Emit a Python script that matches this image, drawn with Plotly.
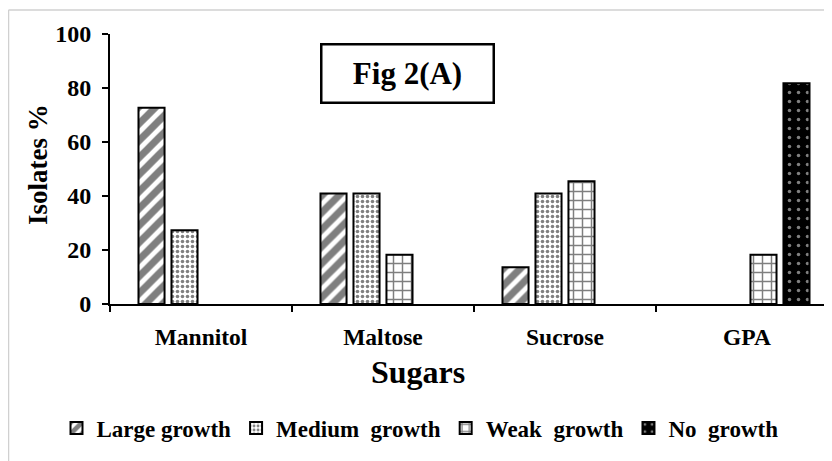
import plotly.graph_objects as go

categories = ["Mannitol", "Maltose", "Sucrose", "GPA"]
series_names = ["Large growth", "Medium\u00a0 growth", "Weak\u00a0 growth", "No\u00a0 growth"]
large_growth = [72.7, 40.9, 13.6, 0]
medium_growth = [27.3, 40.9, 40.9, 0]
weak_growth = [0, 18.2, 45.5, 18.2]
no_growth = [0, 0, 0, 81.8]
y_ticks = [0, 20, 40, 60, 80, 100]

FONT = "Liberation Serif"
OFF = 8  # page body margin
W, H = 832 - OFF, 461 - OFF
L, R, T, B = 110 - OFF, 0, 34 - OFF, 157
PW, PH = W - L - R, H - T - B

def px_x(px):
    return (px - OFF - L) / PW

def px_y(py):
    return (H - B - (py - OFF)) / PH

patterns = [
    dict(shape="/", fgcolor="black", bgcolor="white", size=12, solidity=0.6),
    dict(shape=".", fgcolor="black", bgcolor="white", size=5, solidity=0.4),
    dict(shape="+", fgcolor="black", bgcolor="white", size=9, solidity=0.3),
    dict(shape=".", fgcolor="white", bgcolor="black", size=9, solidity=0.12),
]
colors = ["white", "white", "white", "black"]
values = [large_growth, medium_growth, weak_growth, no_growth]

fig = go.Figure()
for name, vals, pat, col in zip(series_names, values, patterns, colors):
    fig.add_trace(go.Bar(
        x=categories, y=[v if v else None for v in vals], name=name,
        marker=dict(color=col, line=dict(color="black", width=2), pattern=pat),
    ))

fig.update_layout(
    width=W, height=H,
    margin=dict(l=L, r=R, t=T, b=B, pad=0),
    paper_bgcolor="white", plot_bgcolor="white",
    barmode="group", bargap=0.275, bargroupgap=0.21,
    font=dict(family=FONT, color="black", size=23, weight="bold"),
    showlegend=True,
    legend=dict(orientation="h", x=px_x(420), xanchor="center", y=px_y(428), yanchor="middle",
                font=dict(family=FONT, size=23, weight="bold"), itemwidth=30,
                bgcolor="rgba(0,0,0,0)"),
    xaxis=dict(range=[-0.5, -0.5 + PW / 182.0], showline=True, linecolor="black", linewidth=2,
               ticks="outside", tickson="boundaries", ticklen=6, tickwidth=2, tickcolor="black",
               tickfont=dict(family=FONT, size=23.5, weight="bold"), ticklabelstandoff=11,
               showgrid=False, zeroline=False, fixedrange=True),
    yaxis=dict(range=[0, 100], tickvals=y_ticks, showline=True, linecolor="black", linewidth=2,
               ticks="outside", ticklen=6, tickwidth=2, tickcolor="black",
               tickfont=dict(family=FONT, size=24, weight="bold"), ticklabelstandoff=6,
               showgrid=False, zeroline=False, fixedrange=True),
    annotations=[
        dict(text="Isolates %", xref="paper", yref="paper", x=px_x(38), y=px_y(165),
             showarrow=False, textangle=-90, font=dict(family=FONT, size=27, weight="bold"),
             xanchor="center", yanchor="middle"),
        dict(text="Sugars", xref="paper", yref="paper", x=px_x(418), y=px_y(372),
             showarrow=False, font=dict(family=FONT, size=32, weight="bold"),
             xanchor="center", yanchor="middle"),
        dict(text="Fig 2(A)", xref="paper", yref="paper", x=px_x(407.5), y=px_y(73.5),
             showarrow=False, font=dict(family=FONT, size=31, weight="bold"),
             xanchor="center", yanchor="middle", bordercolor="black", borderwidth=2.5,
             borderpad=0, width=170, height=56, bgcolor="white"),
    ],
    shapes=[
        dict(type="line", xref="paper", yref="paper", x0=px_x(8.5), x1=px_x(8.5), y0=px_y(10), y1=px_y(470),
             line=dict(color="#d0d0d0", width=1.5)),
        dict(type="line", xref="paper", yref="paper", x0=px_x(8.5), x1=px_x(840), y0=px_y(10), y1=px_y(10),
             line=dict(color="#d0d0d0", width=1.5)),
    ],
)

fig.write_html("out.html", config=dict(displayModeBar=False))
